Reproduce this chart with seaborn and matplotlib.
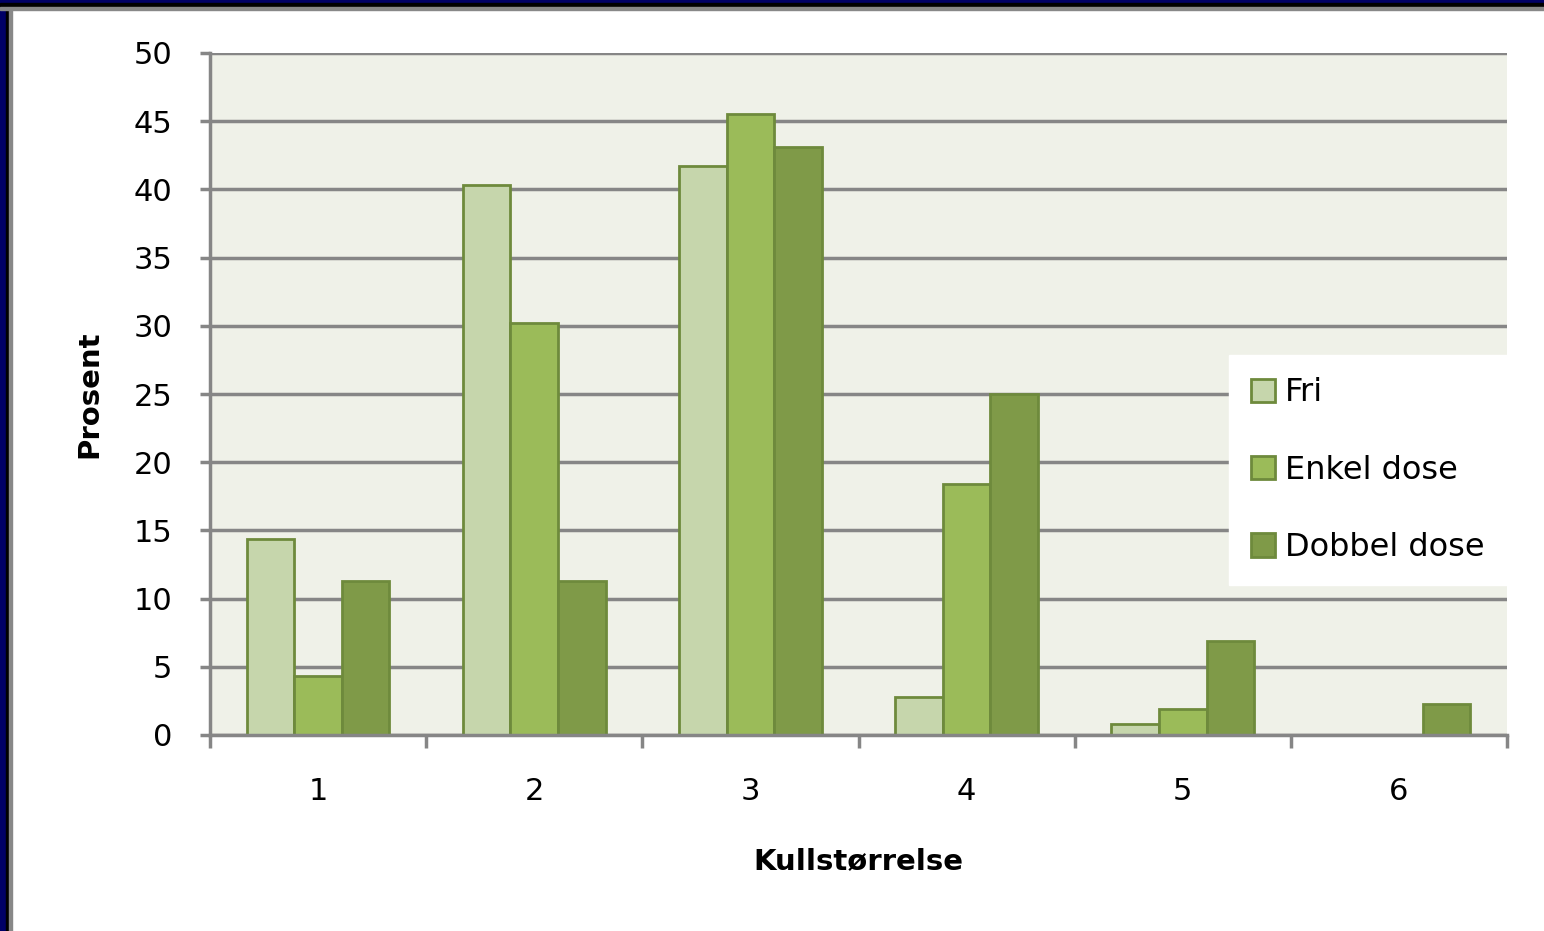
import pandas as pd
import matplotlib
matplotlib.use("Agg")
import matplotlib.pyplot as plt
import seaborn as sns
from matplotlib.patches import Rectangle

# data
kull = ["1", "2", "3", "4", "5", "6"]
fri = [14.4, 40.3, 41.7, 2.8, 0.8, 0.0]
enkel = [4.3, 30.2, 45.5, 18.4, 1.9, 0.0]
dobbel = [11.3, 11.3, 43.1, 25.0, 6.9, 2.3]
grupper = ["Fri", "Enkel dose", "Dobbel dose"]
farger = ["#C6D6AC", "#9BBB59", "#7F9A48"]
yticks = [0, 5, 10, 15, 20, 25, 30, 35, 40, 45, 50]

df = pd.DataFrame({
    "Kullstørrelse": kull * 3,
    "Prosent": fri + enkel + dobbel,
    "gruppe": [g for g in grupper for _ in kull],
})

sns.set_style("white")
plt.rcParams["font.family"] = ["DejaVu Sans"]
plt.rcParams["text.color"] = "black"
plt.rcParams["axes.labelcolor"] = "black"
plt.rcParams["xtick.color"] = "black"
plt.rcParams["ytick.color"] = "black"

W, H = 1544, 931
fig = plt.figure(figsize=(W / 100, H / 100), dpi=100)
fig.patch.set_facecolor("white")

# slide frame: navy / black / gray strips on left and top
for x0, w, c in [(0, 6, "#000066"), (6, 3, "black"), (9, 3, "#888888")]:
    fig.patches.append(Rectangle((x0 / W, 0), w / W, 1, transform=fig.transFigure,
                                 color=c, zorder=10))
for y0, h, c in [(0, 3, "#000066"), (3, 4, "black"), (7, 3, "#888888")]:
    fig.patches.append(Rectangle((0, 1 - (y0 + h) / H), 1, h / H,
                                 transform=fig.transFigure, color=c, zorder=10))

ax = fig.add_axes([210 / W, 1 - 735 / H, (1507 - 210) / W, (735 - 53) / H])
ax.set_facecolor("#EFF1E8")

sns.barplot(data=df, x="Kullstørrelse", y="Prosent", hue="gruppe",
            palette=farger, width=0.66, saturation=1, edgecolor="#6E8A3C",
            linewidth=2, ax=ax)

ax.set_xlim(-0.5, 5.5)
ax.set_ylim(0, 50)
ax.set_yticks(yticks)
ax.yaxis.grid(True, color="#868686", linewidth=2.5)
ax.set_axisbelow(True)
for s in ["top", "right"]:
    ax.spines[s].set_visible(False)
for s in ["left", "bottom"]:
    ax.spines[s].set_color("#868686")
    ax.spines[s].set_linewidth(2.5)

ax.tick_params(axis="y", left=True, length=7, width=2.5, color="#868686",
               labelcolor="black", pad=20, labelsize=22)
ax.tick_params(axis="x", which="major", bottom=True, length=0, pad=30,
               labelcolor="black", labelsize=22)
ax.set_xticks([i - 0.5 for i in range(7)], minor=True)
ax.tick_params(axis="x", which="minor", bottom=True, length=9.5, width=2.5,
               color="#868686")

ax.set_xlabel("Kullstørrelse", fontsize=21, fontweight="bold", labelpad=30)
ax.set_ylabel("Prosent", fontsize=21, fontweight="bold", labelpad=22)

leg = ax.legend(loc="upper right", bbox_to_anchor=(1.0, (735 - 355) / 682),
                borderaxespad=0, frameon=True, fancybox=False, fontsize=23,
                handlelength=0.75, handleheight=0.75, handletextpad=0.3,
                labelspacing=1.45, borderpad=0.7)
leg.get_frame().set_facecolor("white")
leg.get_frame().set_edgecolor("white")
leg.get_frame().set_alpha(1)

fig.savefig("out.png", dpi=100)
